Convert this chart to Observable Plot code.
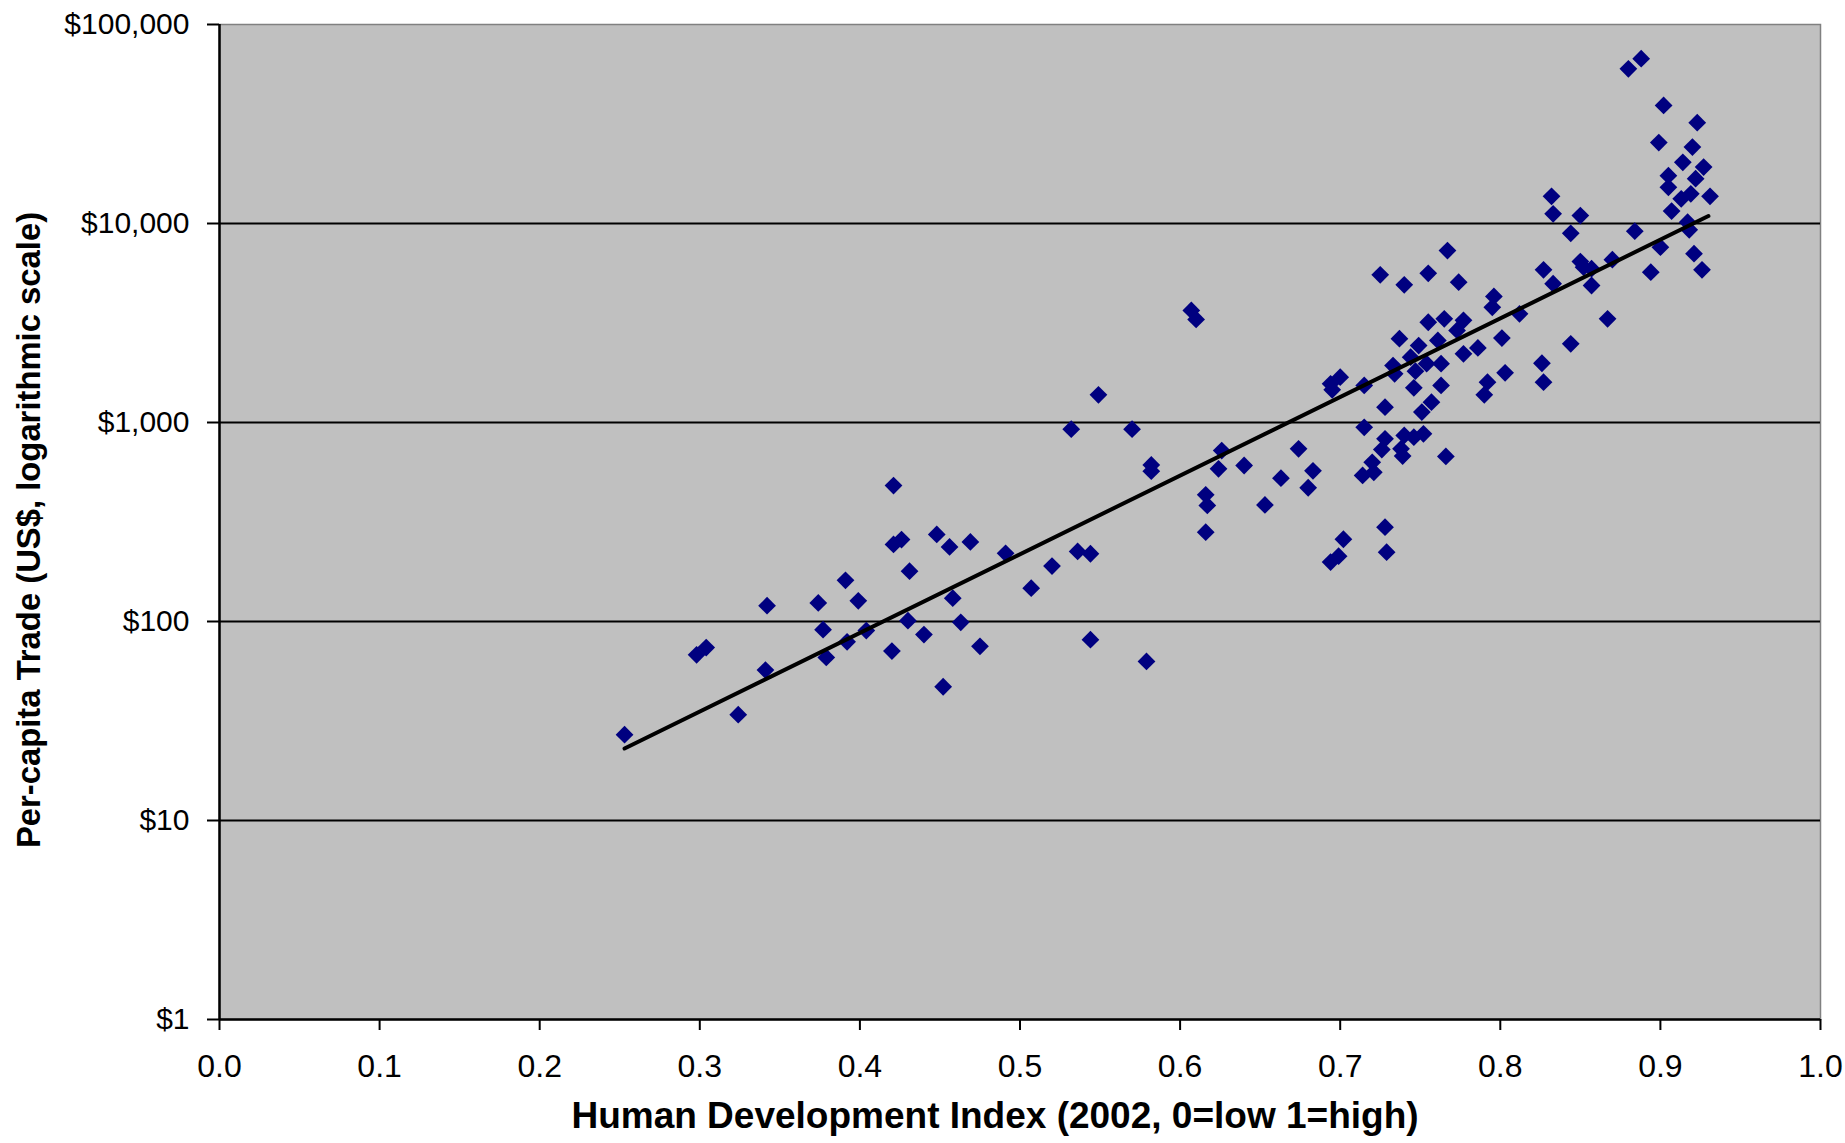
<!DOCTYPE html>
<html>
<head>
<meta charset="utf-8">
<script src="https://cdn.jsdelivr.net/npm/d3@7"></script>
<script src="https://cdn.jsdelivr.net/npm/@observablehq/plot@0.6"></script>
<style>
  html, body { margin: 0; padding: 0; background: #ffffff; }
  #chart { width: 1845px; height: 1143px; }
</style>
</head>
<body>
<div id="chart"></div>
<script>
// Human Development Index (2002) per country
const hdi = [
  0.253, 0.298, 0.304, 0.324, 0.342, 0.341, 0.374, 0.377, 0.379, 0.391,
  0.392, 0.399, 0.404, 0.421, 0.421, 0.426, 0.420, 0.431, 0.430, 0.440,
  0.448, 0.456, 0.452, 0.458, 0.463, 0.469, 0.475, 0.491, 0.507, 0.520,
  0.532, 0.536, 0.544, 0.549, 0.544, 0.570, 0.582, 0.582, 0.579, 0.607,
  0.610, 0.616, 0.617, 0.616, 0.626, 0.624, 0.640, 0.653, 0.663, 0.674,
  0.680, 0.683, 0.694, 0.699, 0.702, 0.694, 0.695, 0.700, 0.715, 0.715,
  0.714, 0.720, 0.721, 0.725, 0.728, 0.728, 0.729, 0.728, 0.726, 0.733,
  0.734, 0.737, 0.740, 0.740, 0.738, 0.739, 0.744, 0.746, 0.746, 0.747,
  0.749, 0.751, 0.752, 0.754, 0.755, 0.755, 0.757, 0.761, 0.763, 0.763,
  0.765, 0.766, 0.767, 0.773, 0.774, 0.777, 0.777, 0.786, 0.790, 0.792,
  0.795, 0.796, 0.801, 0.803, 0.812, 0.826, 0.827, 0.827, 0.832, 0.833,
  0.833, 0.844, 0.844, 0.850, 0.850, 0.852, 0.857, 0.857, 0.867, 0.870,
  0.880, 0.884, 0.888, 0.894, 0.899, 0.900, 0.902, 0.905, 0.905, 0.907,
  0.913, 0.914, 0.917, 0.918, 0.919, 0.920, 0.921, 0.922, 0.923, 0.926,
  0.927, 0.931
];
// Per-capita trade (US$) per country, same order
const trade = [
  27, 68, 74, 34, 120, 57, 124, 91, 66, 161,
  79, 127, 90, 482, 244, 258, 71, 179, 101, 86,
  274, 237, 47, 131, 99, 251, 75, 220, 147, 190,
  925, 225, 219, 1377, 81, 925, 612, 569, 63, 3656,
  3297, 433, 383, 281, 723, 585, 608, 385, 525, 738,
  470, 572, 199, 213, 259, 1564, 1459, 1690, 1535, 946,
  542, 631, 562, 5520, 1194, 298, 223, 828, 731, 1932,
  1757, 2637, 4920, 861, 738, 678, 2130, 844, 1494, 1811,
  2437, 1128, 877, 1974, 5620, 3190, 1265, 2583, 1974, 1535,
  3320, 675, 7310, 2900, 5070, 3260, 2213, 2370, 1377, 1595,
  3790, 4300, 2656, 1778, 3518, 1985, 1595, 5850, 13700, 11190,
  4980, 8930, 2485, 10960, 6440, 6030, 5930, 4880, 3320, 6580,
  59900, 9150, 67300, 5690, 25500, 7600, 39200, 17400, 15200, 11540,
  13300, 20300, 10150, 9290, 14100, 24200, 7050, 16800, 32100, 5850,
  19200, 13700
];
// Exponential trendline endpoints
const trendHdi = [0.253, 0.930];
const trendTrade = [23, 10900];

const xTicks = [0, 0.1, 0.2, 0.3, 0.4, 0.5, 0.6, 0.7, 0.8, 0.9, 1.0];
const yTicks = [1, 10, 100, 1000, 10000, 100000];

const xTitle = "Human Development Index (2002, 0=low 1=high)";
const yTitle = "Per-capita Trade (US$, logarithmic scale)";

const points = hdi.map((h, i) => ({hdi: h, trade: trade[i]}));
const trendPts = trendHdi.map((h, i) => ({hdi: h, trade: trendTrade[i]}));
const gridVals = yTicks.filter(v => v > 1 && v < 100000);

const fmtDollar = d => "$" + d3.format(",")(d);

const chart = Plot.plot({
  width: 1845,
  height: 1143,
  marginLeft: 219,
  marginRight: 25,
  marginTop: 24,
  marginBottom: 124,
  style: {
    fontFamily: "'Liberation Sans', Arial, sans-serif",
    color: "#000000",
    background: "#ffffff",
    overflow: "visible"
  },
  x: {domain: [0, 1]},
  y: {type: "log", domain: [1, 100000]},
  marks: [
    Plot.frame({fill: "#c0c0c0", stroke: "#808080", strokeWidth: 1.5}),
    Plot.ruleY(gridVals, {stroke: "#000000", strokeWidth: 2.2}),
    Plot.ruleY([1], {stroke: "#000000", strokeWidth: 2.5}),
    Plot.ruleX([0], {stroke: "#000000", strokeWidth: 2.5}),
    Plot.dot(points, {x: "hdi", y: "trade", symbol: "diamond2", r: 8, fill: "#000080", stroke: "none"}),
    Plot.line(trendPts, {x: "hdi", y: "trade", stroke: "#000000", strokeWidth: 4}),
    Plot.axisX({
      ticks: xTicks, tickFormat: d3.format(".1f"), tickSize: 11, tickPadding: 24,
      fontSize: 32, strokeWidth: 2, label: null
    }),
    Plot.axisY({
      ticks: yTicks, tickFormat: fmtDollar, tickSize: 12, tickPadding: 18,
      fontSize: 30, strokeWidth: 2, label: null
    }),
    Plot.text([xTitle], {
      frameAnchor: "bottom", dy: 97, dx: -25, text: d => d, textAnchor: "middle",
      fontSize: 37, fontWeight: "bold", lineAnchor: "middle", fill: "#000000"
    }),
    Plot.text([yTitle], {
      frameAnchor: "left", dx: -190, dy: 8, rotate: -90, text: d => d, textAnchor: "middle",
      fontSize: 32.8, fontWeight: "bold", lineAnchor: "middle", fill: "#000000"
    })
  ]
});

document.getElementById("chart").appendChild(chart);
</script>
</body>
</html>
